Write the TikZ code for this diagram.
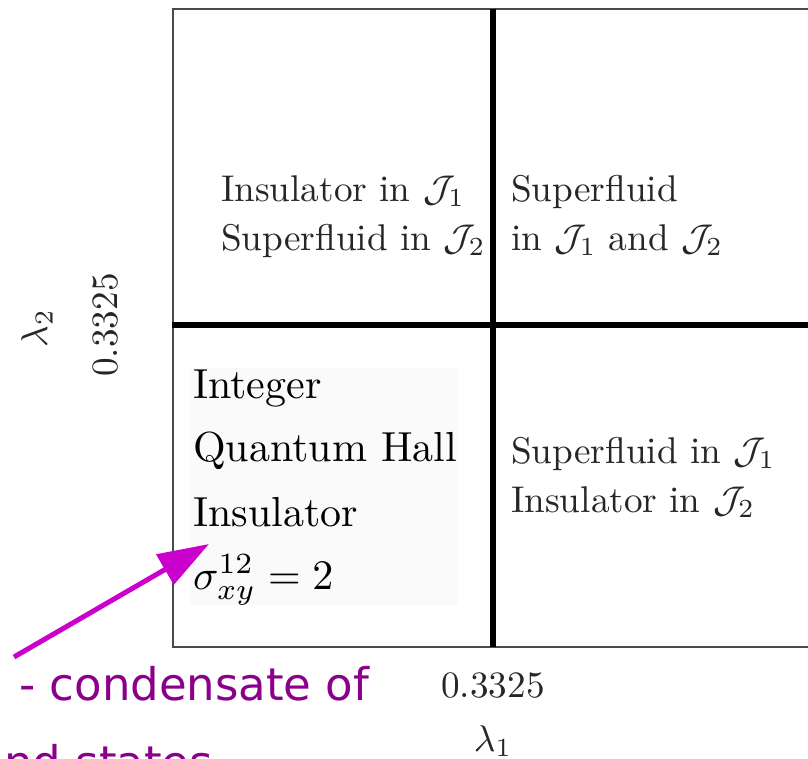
\RequirePackage{fix-cm}
\documentclass[tikz,border=0pt]{standalone}
\usepackage{fontspec}
\newfontfamily\dejavu{DejaVu Sans}
\usetikzlibrary{arrows.meta}
\definecolor{framegray}{HTML}{4A4A4A}
\definecolor{arrowmag}{HTML}{CC00CC}
\definecolor{notepurple}{RGB}{139,0,139}
\definecolor{boxbg}{HTML}{FAFAFA}
\newcommand{\qtxt}[1]{\scalebox{3.72}{#1}}
\newcommand{\bigtxt}[1]{\scalebox{4.2}{#1}}
\tikzset{
  frameline/.style={draw=framegray, line width=2pt},
  phaseline/.style={draw=black, line width=6pt},
  qtext/.style={anchor=base west, inner sep=0pt, text=black!85, font=\fontsize{10}{12}\selectfont},
  bigtext/.style={anchor=base west, inner sep=0pt, text=black, font=\fontsize{10}{12}\selectfont},
  axtext/.style={inner sep=0pt, text=black!85, font=\fontsize{10}{12}\selectfont},
  notetext/.style={anchor=base west, inner sep=0pt, text=notepurple, font=\dejavu\fontsize{45}{54}\selectfont},
  pointer/.style={draw=arrowmag, line width=5pt, -{Triangle[length=51pt,width=34pt]}}
}
\begin{document}
\begin{tikzpicture}[x=1pt,y=-1pt]
\useasboundingbox (0,0) rectangle (808,758);
\begin{scope}
\clip (0,0) rectangle (808,758);
% light background of the IQH label
\fill[boxbg] (190,368) rectangle (458,605);
% frame
\coordinate (tl) at (172.5,9);
\coordinate (bl) at (172.5,647);
\coordinate (tr) at (820,9);
\coordinate (br) at (820,647);
\draw[frameline] (tr) -- (tl) -- (bl) -- (br);
% phase boundaries
\coordinate (vtop) at (493,9);
\coordinate (vbot) at (493,647);
\coordinate (hleft) at (172,325);
\coordinate (hright) at (820,325);
\draw[phaseline] (vtop) -- (vbot);
\draw[phaseline] (hleft) -- (hright);
% quadrant texts
\node[qtext] (ul1) at (221,201) {\qtxt{Insulator in $\mathcal{J}_1$}};
\node[qtext] (ul2) at (221,250) {\qtxt{Superfluid in $\mathcal{J}_2$}};
\node[qtext] (ur1) at (511,201) {\qtxt{Superfluid}};
\node[qtext] (ur2) at (511,250) {\qtxt{in $\mathcal{J}_1$ and $\mathcal{J}_2$}};
\node[qtext] (lr1) at (511,463) {\qtxt{Superfluid in $\mathcal{J}_1$}};
\node[qtext] (lr2) at (511,512) {\qtxt{Insulator in $\mathcal{J}_2$}};
\node[bigtext] (ll1) at (193,398) {\bigtxt{Integer}};
\node[bigtext] (ll2) at (193,461) {\bigtxt{Quantum Hall}};
\node[bigtext] (ll3) at (193,526) {\bigtxt{Insulator}};
\node[bigtext] (ll4) at (193,589) {\bigtxt{$\sigma_{xy}^{12}=2$}};
% axes labels
\node[axtext, anchor=base] (xtick) at (493,697) {\qtxt{0.3325}};
\node[axtext, anchor=base] (xlab) at (493,751) {\qtxt{$\lambda_1$}};
\node[axtext, rotate=90] (ytick) at (106,325) {\qtxt{0.3325}};
\node[axtext, rotate=90] (ylab) at (37,328) {\qtxt{$\lambda_2$}};
% note
\node[notetext] (note1) at (19,700) {- condensate of};
\node[notetext] (note2) at (4,778) {nd states};
\coordinate (ptrstart) at (14,657);
\coordinate (ptrend) at (209,544);
\draw[pointer] (ptrstart) -- (ptrend);
\end{scope}
\end{tikzpicture}
\end{document}
